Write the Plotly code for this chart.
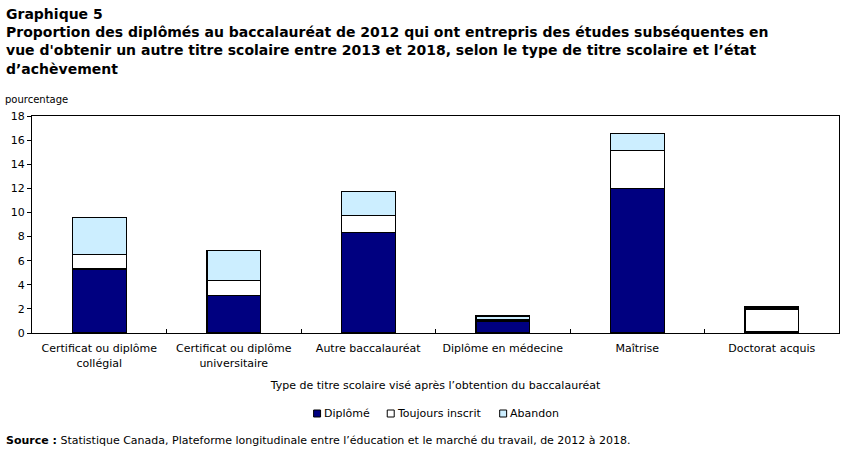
import plotly.graph_objects as go

categories = ["Certificat ou diplôme<br>collégial", "Certificat ou diplôme<br>universitaire",
              "Autre baccalauréat", "Diplôme en médecine", "Maîtrise", "Doctorat acquis"]
diplome = [5.3, 3.1, 8.35, 1.0, 12.0, 0.15]
toujours = [1.2, 1.25, 1.4, 0.1, 3.15, 1.85]
abandon = [3.1, 2.5, 2.0, 0.3, 1.4, 0.15]
series_names = ["Diplômé", "Toujours inscrit", "Abandon"]
colors = ["#000080", "#ffffff", "#cceeff"]
yticks = [0, 2, 4, 6, 8, 10, 12, 14, 16, 18]

FONT = "Verdana, DejaVu Sans, sans-serif"

# plot-area geometry in pixels
L, R, T, B = 29, 840, 116, 333
PW, PH = R - L, B - T


def px(x):
    return (x - L) / PW


def py(y):
    return (B - y) / PH


fig = go.Figure()
for name, vals, col in zip(series_names, [diplome, toujours, abandon], colors):
    fig.add_trace(go.Bar(
        x=categories, y=vals, name=name,
        marker=dict(color=col, line=dict(color="#000000", width=1.3)),
        width=0.4, showlegend=False,
    ))

# manual compact legend (small squares next to text)
legend_x = [312, 386, 499]
shapes = []
annotations = []
for name, col, lx in zip(series_names, colors, legend_x):
    shapes.append(dict(type="rect", xref="paper", yref="paper",
                       x0=px(lx), x1=px(lx + 7), y0=py(417), y1=py(410),
                       fillcolor=col, line=dict(color="#000000", width=1)))
    annotations.append(dict(text=name, xref="paper", yref="paper", x=px(lx + 8), y=py(413),
                            xanchor="left", yanchor="middle", showarrow=False,
                            font=dict(size=11, family=FONT)))

annotations += [
    dict(text="<b>Graphique 5<br>Proportion des diplômés au baccalauréat de 2012 qui ont entrepris des études subséquentes en<br>vue d'obtenir un autre titre scolaire entre 2013 et 2018, selon le type de titre scolaire et l’état<br>d’achèvement</b>",
         xref="paper", yref="paper", x=px(1), y=py(4), xanchor="left", yanchor="top",
         showarrow=False, align="left", font=dict(size=14, family=FONT)),
    dict(text="pourcentage", xref="paper", yref="paper", x=px(0), y=py(99),
         xanchor="left", yanchor="middle", showarrow=False, font=dict(size=10, family=FONT)),
    dict(text="<b>Source :</b> Statistique Canada, Plateforme longitudinale entre l’éducation et le marché du travail, de 2012 à 2018.",
         xref="paper", yref="paper", x=px(1), y=py(440),
         xanchor="left", yanchor="middle", showarrow=False, font=dict(size=11, family=FONT)),
]

fig.update_layout(
    barmode="stack",
    width=851, height=455,
    margin=dict(l=L, r=851 - R, t=T, b=455 - B),
    paper_bgcolor="white", plot_bgcolor="white",
    font=dict(family=FONT, size=11, color="#000000"),
    showlegend=False,
    xaxis=dict(
        showline=True, linecolor="#000000", linewidth=1, mirror=True,
        ticks="inside", ticklen=4, tickcolor="#000000", tickson="boundaries",
        tickfont=dict(size=11, family=FONT), ticklabelstandoff=5,
        showgrid=False,
        title=dict(text="Type de titre scolaire visé après l’obtention du baccalauréat",
                   font=dict(size=11, family=FONT), standoff=12),
    ),
    yaxis=dict(
        range=[0, 18], tickvals=yticks,
        showline=True, linecolor="#000000", linewidth=1, mirror=True,
        ticks="outside", ticklen=4, tickcolor="#000000",
        tickfont=dict(size=11, family=FONT),
        showgrid=False, zeroline=False,
    ),
    shapes=shapes,
    annotations=annotations,
)

fig.write_html("out.html")
